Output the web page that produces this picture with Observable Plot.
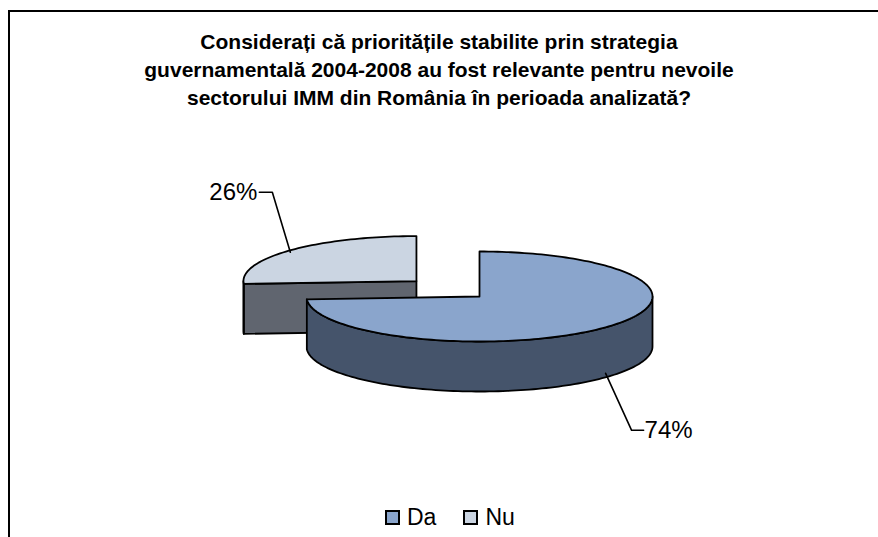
<!DOCTYPE html>
<html>
<head>
<meta charset="utf-8">
<script src="https://cdn.jsdelivr.net/npm/d3@7"></script>
<script src="https://cdn.jsdelivr.net/npm/@observablehq/plot@0.6"></script>
<style>
  html, body { margin: 0; padding: 0; background: #fff; }
  #wrap { position: relative; width: 878px; height: 537px; overflow: hidden; font-family: "Liberation Sans", Arial, sans-serif; }
  #frame { position: absolute; left: 8px; top: 10px; width: 1000px; height: 1000px; border-left: 2px solid #000; border-top: 2px solid #000; box-sizing: border-box; }
  #title { position: absolute; left: 0; top: 28px; width: 878px; text-align: center; font-weight: bold; font-size: 21px; line-height: 28px; color: #000; }
  #chart { position: absolute; left: 0; top: 0; }
  #legend { position: absolute; top: 504px; left: 385px; display: flex; gap: 27px; font-size: 23px; color: #000; }
  .item { display: flex; align-items: center; gap: 7px; }
  .sw { width: 11px; height: 11px; border: 2px solid #000; }
</style>
</head>
<body>
<div id="wrap">
  <div id="frame"></div>
  <div id="title"></div>
  <div id="chart"></div>
  <div id="legend"></div>
</div>
<script>
// ---- data ----
const titleLines = [
  "Considerați că prioritățile stabilite prin strategia",
  "guvernamentală 2004-2008 au fost relevante pentru nevoile",
  "sectorului IMM din România în perioada analizată?"
];
const categories = ["Da", "Nu"];
const values = [74, 26];
const valueLabels = ["74%", "26%"];
const topColors = ["#8aa5cc", "#cbd5e2"];
const sideColors = ["#45546b", "#60656f"];
const explodeFractions = [0, 0.5];

// ---- layout ----
const W = 878, H = 537;
const CX = 479, CY = 296, RX = 173, RY = 45, DEPTH = 50;
const rad = d => d * Math.PI / 180;

document.getElementById("title").innerHTML = titleLines.join("<br>");

const total = d3.sum(values);
let acc = 0;
const slices = categories.map((c, i) => {
  const a0 = acc / total * 360;
  acc += values[i];
  const a1 = acc / total * 360;
  const mid = (a0 + a1) / 2;
  const cx = CX + explodeFractions[i] * RX * Math.sin(rad(mid));
  const cy = CY - explodeFractions[i] * RY * Math.cos(rad(mid));
  return {cat: c, i, a0, a1, mid, cx, cy};
});

const pt = (s, a, dz = 0) => ({x: s.cx + RX * Math.sin(rad(a)), y: s.cy - RY * Math.cos(rad(a)) + dz});
const arc = (s, from, to, dz = 0) => {
  const n = Math.max(2, Math.ceil(Math.abs(to - from) / 1.5));
  return d3.range(n + 1).map(k => pt(s, from + (to - from) * k / n, dz));
};

const marks = [];
const style = {x: "x", y: "y", stroke: "#000", strokeWidth: 1.8, strokeLinejoin: "round", curve: "linear-closed"};

// draw back slices first (Nu), then front (Da)
const drawOrder = [1, 0];
for (const i of drawOrder) {
  const s = slices[i];
  for (const a of [s.a0, s.a1]) {
    const isStart = a === s.a0;
    const nAng = isStart ? a - 90 : a + 90;
    const facing = -Math.cos(rad(nAng));
    if (facing > 0.01 && !(s.a0 === 0 && s.a1 === 360)) {
      const top = pt(s, a), bot = pt(s, a, DEPTH);
      const poly = [{x: s.cx, y: s.cy}, top, bot, {x: s.cx, y: s.cy + DEPTH}];
      marks.push(Plot.line(poly, {...style, fill: sideColors[i]}));
    }
  }
  const w0 = Math.max(s.a0, 90), w1 = Math.min(s.a1, 270);
  if (w1 > w0) {
    const poly = [...arc(s, w0, w1), ...arc(s, w1, w0, DEPTH)];
    marks.push(Plot.line(poly, {...style, fill: sideColors[i]}));
  }
  const topPoly = [{x: s.cx, y: s.cy}, ...arc(s, s.a0, s.a1)];
  marks.push(Plot.line(topPoly, {...style, fill: topColors[i]}));
}

// leaders & labels
const labelOffsets = [{dx: 38, dy: 57, side: "start", onBottom: true}, {dx: -31, dy: -60, side: "end", onBottom: false}];
slices.forEach((s, i) => {
  const o = labelOffsets[i];
  const a = pt(s, s.mid, o.onBottom ? DEPTH - 4 : 2);
  const lx = a.x + o.dx, ly = a.y + o.dy;
  const elbowX = o.side === "start" ? lx - 12 : lx + 13;
  marks.push(Plot.line([a, {x: elbowX, y: ly}, {x: lx, y: ly}], {x: "x", y: "y", stroke: "#000", strokeWidth: 1.6}));
  marks.push(Plot.text([{x: o.side === "start" ? lx + 1 : lx - 2, y: ly, t: valueLabels[i]}], {
    x: "x", y: "y", text: "t", textAnchor: o.side, fontSize: 24, fill: "#000", fontFamily: "Liberation Sans, Arial, sans-serif"
  }));
});

const chart = Plot.plot({
  width: W, height: H,
  margin: 0,
  x: {domain: [0, W], range: [0, W], axis: null},
  y: {domain: [0, H], range: [0, H], axis: null},
  style: {background: "transparent", overflow: "visible"},
  marks
});
document.getElementById("chart").append(chart);

// legend
const legend = document.getElementById("legend");
categories.forEach((c, i) => {
  const it = document.createElement("div");
  it.className = "item";
  it.innerHTML = `<span class="sw" style="background:${topColors[i]}"></span><span>${c}</span>`;
  legend.append(it);
});
</script>
</body>
</html>
